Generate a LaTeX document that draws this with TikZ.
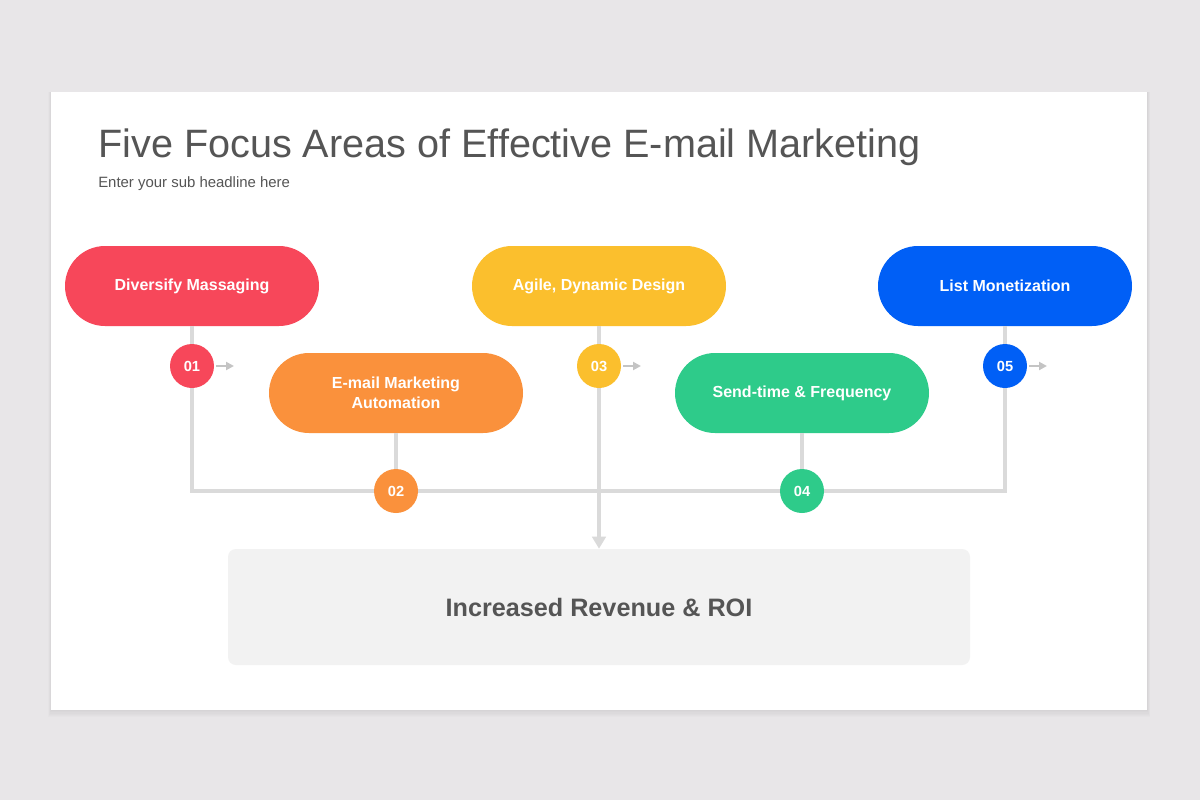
\documentclass[tikz,border=0pt]{standalone}
\usepackage{fontspec}
\setmainfont{Liberation Sans}
\usetikzlibrary{shapes.misc,arrows.meta}
\definecolor{bgc}{HTML}{E8E6E8}
\definecolor{cred}{HTML}{F7475A}
\definecolor{corange}{HTML}{FA913C}
\definecolor{cyellow}{HTML}{FBBF2D}
\definecolor{cgreen}{HTML}{2ECB8A}
\definecolor{cblue}{HTML}{005FF6}
\definecolor{linec}{HTML}{DADADA}
\definecolor{txtc}{HTML}{555555}
\definecolor{boxc}{HTML}{F2F2F2}
\tikzset{
  pill/.style={rounded rectangle, minimum width=190.5pt, minimum height=60pt, text=white,
    font=\fontsize{12}{15}\selectfont\bfseries, align=center, inner sep=0pt},
  num/.style={circle, minimum size=33pt, inner sep=0pt, text=white, font=\fontsize{11}{13}\selectfont\bfseries},
  conn/.style={draw=linec, line width=2.4pt},
  small/.style={draw=linec!90!black, line width=1.5pt, -{Triangle[width=6pt,length=6pt]}},
}
\begin{document}
\begin{tikzpicture}[x=0.75pt,y=-0.75pt]
\useasboundingbox (0,0) rectangle (1200,800);
\fill[bgc] (0,0) rectangle (1200,800);
% slide shadow
\foreach \i in {1,...,6} {
  \fill[black, opacity=0.012] (51-\i*0.5,92) rectangle (1147+\i*0.5,710+\i*1.2);
}
\fill[white] (51,92) rectangle (1147,710);
% title
\node[anchor=base west, inner sep=0pt, text=txtc, font=\fontsize{29.7}{34}\selectfont] (title) at (98,157) {Five Focus Areas of Effective E-mail Marketing};
\node[anchor=base west, inner sep=0pt, text=txtc, font=\fontsize{11.2}{13}\selectfont] (sub) at (98,187) {Enter your sub headline here};
% pills
\node[pill, fill=cred] (p1) at (192,286) {Diversify Massaging};
\node[pill, fill=corange] (p2) at (396,393) {E-mail Marketing\\Automation};
\node[pill, fill=cyellow] (p3) at (599,286) {Agile, Dynamic Design};
\node[pill, fill=cgreen] (p4) at (802,393) {Send-time \& Frequency};
\node[pill, fill=cblue] (p5) at (1005,286) {List Monetization};
% bottom box
\node[rectangle, rounded corners=6pt, fill=boxc, minimum width=556.5pt, minimum height=87pt, text=txtc,
  font=\fontsize{18.9}{22}\selectfont\bfseries] (res) at (599,607) {Increased Revenue \& ROI};
% junctions
\coordinate (j1) at (192,491);
\coordinate (j5) at (1005,491);
% connectors
\draw[conn] (p1.south) -- (j1) -- (j5) -- (p5.south);
\draw[conn] (p2.south) -- (396,491);
\draw[conn] (p4.south) -- (802,491);
\draw[conn, -{Triangle[width=10pt,length=9pt]}] (p3.south) -- (res.north);
% circles
\node[num, fill=cred] (c1) at (192,366) {01};
\node[num, fill=corange] (c2) at (396,491) {02};
\node[num, fill=cyellow] (c3) at (599,366) {03};
\node[num, fill=cgreen] (c4) at (802,491) {04};
\node[num, fill=cblue] (c5) at (1005,366) {05};
% small arrows
\coordinate (a1) at (234,366);
\coordinate (a3) at (641,366);
\coordinate (a5) at (1047,366);
\draw[small] (c1.east) ++(2,0) -- (a1);
\draw[small] (c3.east) ++(2,0) -- (a3);
\draw[small] (c5.east) ++(2,0) -- (a5);
\end{tikzpicture}
\end{document}
